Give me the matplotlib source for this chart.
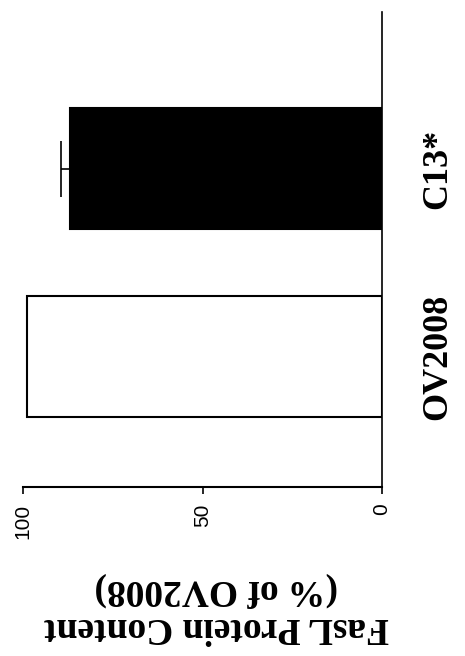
import matplotlib
matplotlib.use("Agg")
import matplotlib.pyplot as plt

# data (rotated bar chart: value axis runs 100 -> 0 left to right)
groups = ["OV2008", "C13*"]
values = [99, 87]
err_up = [0, 2.5]
bar_fill = ["white", "black"]

fig = plt.figure(figsize=(4.65, 6.56), dpi=100)
ax = fig.add_axes([23/465, 1-487/656, (382-23)/465, (487-12)/656])

pos = list(range(len(groups)))
ax.barh(pos, values, height=0.645, color=bar_fill, edgecolor="black", linewidth=1.5, zorder=2)
for p, v, e in zip(pos, values, err_up):
    if e > 0:
        ax.errorbar(v, p, xerr=[[0], [e]], fmt="none", ecolor="black",
                    elinewidth=1.2, capsize=20, capthick=1.2, zorder=1)

ax.set_xlim(100, 0)
ax.set_ylim(-0.696, 1.837)

for s in ["top", "left"]:
    ax.spines[s].set_visible(False)
ax.spines["right"].set_linewidth(1.2)
ax.spines["bottom"].set_linewidth(1.5)

ax.set_xticks([100, 50, 0])
ax.set_xticklabels(["100", "50", "0"], rotation=90, fontfamily="Liberation Sans", fontsize=15)
ax.tick_params(axis="x", direction="out", length=5, width=1.2, pad=7)

ax.yaxis.tick_right()
ax.set_yticks(pos)
ax.set_yticklabels(groups, rotation=90, va="center", ha="left",
                   fontfamily="Liberation Serif", fontweight="bold", fontsize=26)
ax.tick_params(axis="y", length=0, pad=28)

ax.set_xlabel("FasL Protein Content\n(% of OV2008)", rotation=180,
              fontfamily="Liberation Serif", fontweight="bold", fontsize=27,
              linespacing=1.1, va="center", ha="center")
ax.xaxis.set_label_coords(0.538, -0.255)

fig.savefig("out.png", dpi=100)
